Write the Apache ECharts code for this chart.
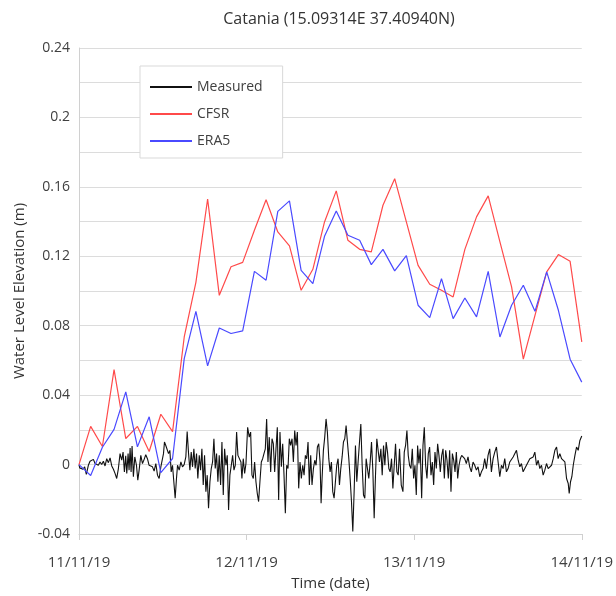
<!DOCTYPE html>
<html>
<head>
<meta charset="utf-8">
<script src="https://cdn.jsdelivr.net/npm/echarts@6/dist/echarts.min.js"></script>
<style>
html,body{margin:0;padding:0;background:#fff;}
#chart{width:616px;height:596px;}
</style>
</head>
<body>
<div id="chart"></div>
<script>
const titleText = 'Catania (15.09314E 37.40940N)';
const dateLabels = ['11/11/19', '12/11/19', '13/11/19', '14/11/19'];
const seriesNames = ['Measured', 'CFSR', 'ERA5'];

// model output times (hours since 11/11/19 00:00)
const modelHours = [0,1.67,3.35,5.02,6.70,8.37,10.05,11.72,13.40,15.07,16.74,18.42,20.09,21.77,23.44,25.12,26.79,28.47,30.14,31.81,33.49,35.16,36.84,38.51,40.19,41.86,43.53,45.21,46.88,48.56,50.23,51.91,53.58,55.26,56.93,58.60,60.28,61.95,63.63,65.30,66.98,68.65,70.33,72.00];

const cfsr = [0,0.022,0.0104,0.0547,0.015,0.022,0.0075,0.029,0.019,0.0735,0.105,0.153,0.0975,0.114,0.1165,0.135,0.1526,0.134,0.126,0.1004,0.1125,0.1398,0.1577,0.1292,0.124,0.1225,0.1494,0.1647,0.1398,0.1148,0.1039,0.1004,0.0966,0.124,0.1427,0.1548,0.1283,0.1024,0.0607,0.086,0.111,0.121,0.1171,0.0707];

const era5 = [0,-0.0063,0.010,0.0203,0.0419,0.0102,0.0275,-0.0046,0.0035,0.061,0.0883,0.0569,0.0787,0.0755,0.077,0.1113,0.1062,0.1459,0.1519,0.1119,0.1043,0.1315,0.1461,0.1321,0.1292,0.1152,0.124,0.1116,0.1204,0.0918,0.0847,0.1071,0.0841,0.096,0.0851,0.1113,0.0735,0.0918,0.1033,0.0883,0.111,0.0889,0.0607,0.0475];

// measured tide gauge [hours, value]
const measured = [[0,0],[0.10,-0.0019],[0.33,-0.0008],[0.57,-0.0027],[0.81,-0.0013],[1.05,-0.0057],[1.34,-0.0004],[1.58,0.0019],[1.82,0.0011],[2.06,0.0030],[2.30,0.0006],[2.53,0.0015],[2.77,-0.0004],[3.01,0.0015],[3.25,0],[3.49,0.0019],[3.73,-0.0008],[3.97,0.0034],[4.21,0.0011],[4.45,0.0038],[4.69,-0.0008],[4.93,-0.0027],[5.16,-0.0051],[5.40,-0.0080],[5.64,-0.0023],[5.88,0.0063],[6.12,0.0025],[6.31,0.0072],[6.50,-0.0042],[6.69,0.0050],[6.84,-0.0051],[7.03,0.0063],[7.17,-0.0032],[7.32,0.0095],[7.46,-0.0042],[7.60,0.0107],[7.79,-0.0070],[7.99,0.0044],[8.23,-0.0004],[8.42,-0.0090],[8.61,-0.0032],[8.85,0.0053],[9.09,0.0006],[9.33,0.0030],[9.56,0.0057],[9.80,0.0034],[10.04,-0.0004],[10.28,0],[10.52,-0.0013],[10.76,-0.0038],[11.00,0.0006],[11.24,-0.0061],[11.48,-0.0080],[11.72,-0.0013],[11.96,-0.0004],[12.10,0.0063],[12.24,0.0130],[12.43,0.0110],[12.62,0.0114],[12.82,0.0063],[13.01,0.0082],[13.20,-0.0042],[13.39,-0.0004],[13.58,-0.0099],[13.77,-0.0194],[13.96,-0.0080],[14.11,-0.0004],[14.35,-0.0032],[14.59,0.0015],[14.82,-0.0013],[15.06,0],[15.30,0.0044],[15.49,0.0190],[15.69,0.0063],[15.88,-0.0032],[16.07,0.0072],[16.26,-0.0013],[16.45,0.0091],[16.64,-0.0023],[16.83,0.0063],[17.02,-0.0080],[17.22,0.0053],[17.41,-0.0032],[17.60,0.0091],[17.79,-0.0118],[17.98,0.0053],[18.17,-0.0156],[18.36,-0.0061],[18.55,-0.0251],[18.75,-0.0099],[18.94,-0.0023],[19.13,0.0015],[19.32,0.0149],[19.51,-0.0023],[19.70,0.0063],[19.89,-0.0099],[20.08,0.0053],[20.28,-0.0118],[20.47,0.0130],[20.66,-0.0175],[20.85,0.0091],[21.04,-0.0004],[21.23,0.0053],[21.42,-0.0261],[21.61,-0.0061],[21.81,-0.0004],[22.00,0.0053],[22.19,-0.0032],[22.38,-0.0004],[22.57,0.0187],[22.76,0.0053],
[22.95,0.0044],[23.19,0.0015],[23.33,-0.0080],[23.52,0.0034],[23.72,-0.0051],[23.91,0.0006],[24.15,0.0215],[24.38,0.0158],[24.58,0.0187],[24.77,-0.0061],[24.96,-0.0080],[25.15,0.0015],[25.34,-0.0099],[25.53,-0.0166],[25.72,-0.0213],[25.91,-0.0099],[26.11,0.0015],[26.30,0.0034],[26.49,0.0063],[26.68,0.0091],[26.87,0.0263],[27.06,0.0015],[27.25,0.0158],[27.45,-0.0042],[27.64,0.0149],[27.83,0.0120],[28.02,-0.0042],[28.21,0.0091],[28.40,0.0215],[28.59,-0.0204],[28.78,0.0187],[28.98,-0.0013],[29.17,0.0120],[29.36,-0.0061],[29.55,-0.0280],[29.74,-0.0004],[29.93,-0.0023],[30.12,0.0149],[30.31,0.0110],[30.51,0.0149],[30.70,0.0015],[30.89,0.0196],[31.08,0.0110],[31.27,0.0187],[31.46,-0.0137],[31.65,0.0015],[31.84,-0.0080],[32.04,-0.0004],[32.23,-0.0061],[32.42,0.0053],[32.61,0.0034],[32.80,0.0130],[32.99,-0.0118],[33.18,0.0053],[33.37,-0.0118],[33.57,-0.0023],[33.76,0.0025],[33.95,-0.0004],[34.14,0.0101],[34.33,0.0120],[34.52,0.0015],[34.67,-0.0223],[34.81,-0.0080],[35.00,0.0082],[35.19,0.0158],[35.38,0.0263],[35.57,0.0187],[35.77,0.0034],[35.96,-0.0042],[36.15,0.0015],[36.34,-0.0156],[36.53,-0.0194],[36.72,-0.0099],[36.91,-0.0004],[37.10,0.0034],[37.30,-0.0118],[37.49,-0.0023],[37.68,0.0044],[37.87,0.0130],[38.06,0.0149],[38.25,0.0225],[38.44,0.0130],[38.64,0.0034],[38.83,-0.0080],[39.02,-0.0213],[39.21,-0.0385],[39.40,-0.0156],[39.59,0.0110],[39.78,-0.0099],[39.97,0.0015],[40.17,0.0130],[40.36,0.0234],[40.55,-0.0004],[40.74,-0.0175],[40.93,-0.0194],[41.12,0.0034],[41.31,0.0044],[41.50,-0.0080],[41.70,0.0015],[41.89,0.0130],[42.08,-0.0032],[42.27,-0.0309],[42.46,-0.0061],[42.65,0.0149],[42.84,0.0158],[43.03,0.0015],[43.23,0.0091],[43.42,-0.0061],[43.61,0.0110],[43.80,-0.0004],[43.99,0.0130],[44.18,0.0072],[44.37,-0.0023],[44.56,-0.0042],[44.76,0.0034],[44.95,-0.0137],[45.14,-0.0004],[45.33,0.0120],[45.52,-0.0042],[45.71,-0.0061],[45.90,0.0091],
[46.15,-0.0118],[46.39,-0.0156],[46.58,0.0072],[46.77,0.0110],[46.96,0.0196],[47.15,0.0053],[47.34,-0.0004],[47.54,-0.0023],[47.73,0.0091],[47.92,-0.0080],[48.11,-0.0004],[48.30,-0.0175],[48.49,0.0110],[48.68,0.0006],[48.87,0.0091],[49.07,-0.0194],[49.26,0.0110],[49.45,0.0215],[49.64,-0.0004],[49.83,-0.0080],[50.02,0.0063],[50.21,0.0101],[50.41,-0.0061],[50.60,0.0015],[50.79,-0.0118],[50.98,0.0072],[51.17,-0.0023],[51.36,0.0120],[51.55,0.0053],[51.74,-0.0042],[51.94,0.0053],[52.13,0.0091],[52.32,-0.0080],[52.51,0.0082],[52.70,0.0025],[52.89,-0.0080],[53.08,0.0082],[53.27,-0.0156],[53.47,0.0063],[53.66,0.0025],[53.85,-0.0042],[54.04,0.0072],[54.23,-0.0080],[54.42,-0.0004],[54.61,0.0034],[54.80,0.0053],[55.00,0.0063],[55.23,0.0034],[55.47,0.0006],[55.71,0.0044],[55.95,-0.0013],[56.19,-0.0042],[56.43,0.0015],[56.67,-0.0004],[56.91,-0.0032],[57.15,-0.0013],[57.39,-0.0070],[57.63,-0.0042],[57.87,-0.0023],[58.10,0.0034],[58.34,-0.0023],[58.58,0.0053],[58.82,0.0091],[59.06,-0.0042],[59.30,0.0034],[59.54,0.0072],[59.78,0.0101],[60.02,0.0015],[60.26,-0.0070],[60.50,-0.0004],[60.73,-0.0023],[60.97,0.0034],[61.21,-0.0042],[61.45,-0.0023],[61.69,0.0015],[61.93,0.0025],[62.17,0.0044],[62.41,0.0034],[62.65,0.0082],[62.89,0.0025],[63.13,-0.0013],[63.36,0.0006],[63.60,-0.0042],[63.84,-0.0051],[64.08,-0.0004],[64.32,0.0015],[64.56,0.0034],[64.80,0.0025],[65.04,0.0044],[65.28,0.0072],[65.52,-0.0004],[65.76,0.0025],[65.99,-0.0023],[66.23,-0.0004],[66.47,-0.0061],[66.71,-0.0032],[66.95,0.0006],[67.19,-0.0023],[67.43,-0.0013],[67.67,-0.0004],[67.91,0.0034],[68.15,0.0082],[68.39,0.0101],[68.62,0.0034],[68.86,0.0063],[69.10,0.0034],[69.34,0.0025],[69.58,0.0015],[69.82,-0.0080],[70.06,-0.0109],[70.20,-0.0166],[70.39,-0.0099],[70.58,-0.0070],[70.78,-0.0004],[71.02,0.0053],[71.25,0.0101],[71.49,0.0082],[71.73,0.0139],[72.00,0.0165]];

const FONT = '"Open Sans", "Liberation Sans", sans-serif';
const chart = echarts.init(document.getElementById('chart'), null, {renderer: 'canvas'});

chart.setOption({
  animation: false,
  backgroundColor: '#ffffff',
  title: {
    text: titleText,
    left: 334, top: 6, textAlign: 'center',
    textStyle: {fontFamily: FONT, fontSize: 16, fontWeight: 'normal', color: '#333333'}
  },
  legend: {
    orient: 'vertical',
    left: 140, top: 66,
    padding: [14, 20, 10, 10],
    itemGap: 13,
    itemWidth: 42, itemHeight: 2,
    icon: 'rect',
    backgroundColor: '#ffffff',
    borderColor: '#d9d9d9', borderWidth: 1,
    textStyle: {fontFamily: FONT, fontSize: 14, color: '#404040'},
    data: seriesNames
  },
  grid: {left: 79, right: 34, top: 48, bottom: 61, containLabel: false},
  xAxis: {
    type: 'value', min: 0, max: 72, interval: 24,
    name: 'Time (date)', nameLocation: 'middle', nameGap: 42,
    nameTextStyle: {fontFamily: FONT, fontSize: 15, color: '#333333'},
    axisLine: {show: true, onZero: false, lineStyle: {color: '#d0d0d0', width: 1}},
    axisTick: {show: true, length: 6, lineStyle: {color: '#d0d0d0'}},
    axisLabel: {fontFamily: FONT, fontSize: 15, color: '#404040', margin: 21,
      formatter: function (v) { return dateLabels[Math.round(v / 24)] || ''; }},
    splitLine: {show: false}
  },
  yAxis: {
    type: 'value', min: -0.04, max: 0.24, interval: 0.04,
    name: 'Water Level Elevation (m)', nameLocation: 'middle', nameGap: 52,
    nameTextStyle: {fontFamily: FONT, fontSize: 15, color: '#333333'},
    axisLine: {show: true, lineStyle: {color: '#d0d0d0', width: 1}},
    axisTick: {show: false},
    axisLabel: {fontFamily: FONT, fontSize: 14, color: '#404040', margin: 9,
      formatter: function (v) { return String(+v.toFixed(2)); }},
    splitLine: {show: true, lineStyle: {color: '#dcdcdc', width: 1}},
    minorTick: {show: false, splitNumber: 2},
    minorSplitLine: {show: true, lineStyle: {color: '#dcdcdc', width: 1}}
  },
  series: [
    {name: seriesNames[0], type: 'line', data: measured, showSymbol: false, symbol: 'none',
     lineStyle: {color: '#111111', width: 1.1}, itemStyle: {color: '#111111'}},
    {name: seriesNames[1], type: 'line', data: modelHours.map((t, i) => [t, cfsr[i]]), showSymbol: false, symbol: 'none',
     lineStyle: {color: '#ff4a4a', width: 1.2}, itemStyle: {color: '#ff4a4a'}},
    {name: seriesNames[2], type: 'line', data: modelHours.map((t, i) => [t, era5[i]]), showSymbol: false, symbol: 'none',
     lineStyle: {color: '#4a4aff', width: 1.2}, itemStyle: {color: '#4a4aff'}}
  ]
});
</script>
</body>
</html>
